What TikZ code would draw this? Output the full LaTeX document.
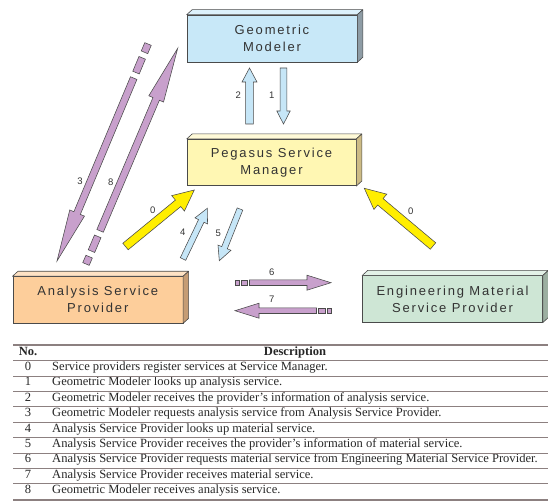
\documentclass[tikz,border=0pt]{standalone}
\usepackage{fontspec}
\setmainfont{Liberation Serif}
\newfontfamily\boxfont[LetterSpace=14]{Liberation Sans}
\newfontfamily\numfont{Liberation Sans}
\usetikzlibrary{calc}

\definecolor{gmfront}{HTML}{C8E8F8}
\definecolor{gmtop}{HTML}{DDF1FB}
\definecolor{gmside}{HTML}{8E9CA5}
\definecolor{psfront}{HTML}{FFF7B3}
\definecolor{pstop}{HTML}{FFFAD8}
\definecolor{psside}{HTML}{CDBB85}
\definecolor{asfront}{HTML}{FDCE9B}
\definecolor{astop}{HTML}{FEE2C4}
\definecolor{asside}{HTML}{C59C74}
\definecolor{emfront}{HTML}{CEE6D5}
\definecolor{emtop}{HTML}{E3F1E7}
\definecolor{emside}{HTML}{9CAFA1}
\definecolor{edge}{HTML}{4A4A4A}
\definecolor{lilac}{HTML}{C8A0CC}
\definecolor{sky}{HTML}{C6E6F7}
\definecolor{sun}{HTML}{FFEE00}
\definecolor{rulecol}{HTML}{8C8080}
\definecolor{textgray}{HTML}{333333}

% block arrow: [style]{tail}{tip}{shaft half width}{head half width}{head length}
\newcommand\blockarrow[6][]{%
  \coordinate (ba-h) at ($(#3)!#6!(#2)$);
  \draw[arrowline,#1] ($(#2)!#4!90:(#3)$) -- ($(ba-h)!#4!-90:(#2)$)
    -- ($(ba-h)!#5!-90:(#2)$) -- (#3) -- ($(ba-h)!#5!90:(#2)$)
    -- ($(ba-h)!#4!90:(#2)$) -- ($(#2)!#4!-90:(#3)$) -- cycle;
}
% one dash of a broken arrow shaft: [style]{from}{to}{half width}
\newcommand\shaftpiece[4][]{%
  \draw[arrowline,#1] ($(#2)!#4!90:(#3)$) -- ($(#3)!#4!-90:(#2)$)
    -- ($(#3)!#4!90:(#2)$) -- ($(#2)!#4!-90:(#3)$) -- cycle;
}
% top and side faces of a slab-shaped box
\newcommand\slab[3]{%
  \draw[edge,line width=0.6pt,fill=#2,line join=round] (#1.north west) -- ++(5.5,-5)
    -- ($(#1.north east)+(5.5,-5)$) -- (#1.north east) -- cycle;
  \draw[edge,line width=0.6pt,fill=#3,line join=round] (#1.north east) -- ++(5.5,-5)
    -- ($(#1.south east)+(5.5,-5)$) -- (#1.south east) -- cycle;
}

\begin{document}
\begin{tikzpicture}[x=1pt,y=-1pt,
  arrowline/.style={draw=edge,line width=0.55pt,line join=miter},
  slabbox/.style={draw=edge,line width=0.6pt,inner sep=0pt,align=center,
    text=textgray,font=\boxfont\fontsize{13}{17}\selectfont},
  lab/.style={text=textgray,font=\numfont\fontsize{9.5}{10}\selectfont,inner sep=0pt},
  cell/.style={inner sep=0pt,font=\fontsize{12.55}{13}\selectfont,text=black!85},
  hrule/.style={draw=rulecol,line width=0.6pt},
  thickrule/.style={draw=rulecol,line width=1.8pt}]
\useasboundingbox (0,0) rectangle (548,502);

% ---- boxes ----
\node[slabbox,fill=gmfront,minimum width=170pt,minimum height=47pt] (gm) at (272,38.5) {Geometric\\Modeler};
\slab{gm}{gmtop}{gmside}
\node[slabbox,fill=psfront,minimum width=169pt,minimum height=46.5pt] (psm) at (271.5,162.5) {Pegasus Service\\Manager};
\slab{psm}{pstop}{psside}
\node[slabbox,fill=asfront,minimum width=170pt,minimum height=46.5pt] (asp) at (97.8,299.8) {Analysis Service\\Provider};
\slab{asp}{astop}{asside}
\node[slabbox,fill=emfront,minimum width=180pt,minimum height=46.5pt] (emp) at (452.5,299) {Engineering Material\\Service Provider};
\slab{emp}{emtop}{emside}

% ---- arrow end points ----
\coordinate (a1t) at (283.5,68);   \coordinate (a1h) at (283.5,124);
\coordinate (a2t) at (249.5,124);  \coordinate (a2h) at (249.5,68);
\coordinate (a4t) at (183,259);    \coordinate (a4h) at (207.3,208.3);
\coordinate (a5t) at (240,209);    \coordinate (a5h) at (219.3,260.7);
\coordinate (a0lt) at (125.5,246.5); \coordinate (a0lh) at (194.3,190);
\coordinate (a0rt) at (433,246);   \coordinate (a0rh) at (364.3,188.3);
\coordinate (a6s) at (235,282.7);  \coordinate (a6h) at (331,282.7);
\coordinate (a7s) at (331,310.7);  \coordinate (a7h) at (235,310.7);
\coordinate (a3s) at (148,44);     \coordinate (a3h) at (57,261);
\coordinate (a8s) at (86,264);     \coordinate (a8h) at (177.7,48.3);

% ---- registration / lookup arrows ----
\blockarrow[fill=sky]{a1t}{a1h}{3.3pt}{6.7pt}{13pt}
\blockarrow[fill=sky]{a2t}{a2h}{3.8pt}{7.5pt}{14pt}
\blockarrow[fill=sky]{a4t}{a4h}{3pt}{7pt}{14pt}
\blockarrow[fill=sky]{a5t}{a5h}{3pt}{7pt}{14pt}
\blockarrow[fill=sun]{a0lt}{a0lh}{4.2pt}{10pt}{21pt}
\blockarrow[fill=sun]{a0rt}{a0rh}{4.2pt}{10pt}{21pt}

% ---- service request arrows with broken tails ----
\coordinate (a6p1) at ($(a6s)!4pt!(a6h)$);
\coordinate (a6p2) at ($(a6s)!6pt!(a6h)$);
\coordinate (a6p3) at ($(a6s)!12.5pt!(a6h)$);
\coordinate (a6p4) at ($(a6s)!14.5pt!(a6h)$);
\shaftpiece[fill=lilac]{a6s}{a6p1}{2.8pt}
\shaftpiece[fill=lilac]{a6p2}{a6p3}{2.8pt}
\blockarrow[fill=lilac]{a6p4}{a6h}{2.8pt}{7.5pt}{24pt}

\coordinate (a7p1) at ($(a7s)!4pt!(a7h)$);
\coordinate (a7p2) at ($(a7s)!6pt!(a7h)$);
\coordinate (a7p3) at ($(a7s)!12.5pt!(a7h)$);
\coordinate (a7p4) at ($(a7s)!14.5pt!(a7h)$);
\shaftpiece[fill=lilac]{a7s}{a7p1}{2.8pt}
\shaftpiece[fill=lilac]{a7p2}{a7p3}{2.8pt}
\blockarrow[fill=lilac]{a7p4}{a7h}{2.8pt}{7.5pt}{24pt}

\coordinate (a3p1) at ($(a3s)!9pt!(a3h)$);
\coordinate (a3p2) at ($(a3s)!15pt!(a3h)$);
\coordinate (a3p3) at ($(a3s)!31pt!(a3h)$);
\coordinate (a3p4) at ($(a3s)!37pt!(a3h)$);
\shaftpiece[fill=lilac]{a3s}{a3p1}{3.5pt}
\shaftpiece[fill=lilac]{a3p2}{a3p3}{3.5pt}
\blockarrow[fill=lilac]{a3p4}{a3h}{3.5pt}{8pt}{52pt}

\coordinate (a8p1) at ($(a8s)!8pt!(a8h)$);
\coordinate (a8p2) at ($(a8s)!14pt!(a8h)$);
\coordinate (a8p3) at ($(a8s)!30pt!(a8h)$);
\coordinate (a8p4) at ($(a8s)!36pt!(a8h)$);
\shaftpiece[fill=lilac]{a8s}{a8p1}{3.5pt}
\shaftpiece[fill=lilac]{a8p2}{a8p3}{3.5pt}
\blockarrow[fill=lilac]{a8p4}{a8h}{3.5pt}{8pt}{55pt}

% ---- step numbers ----
\node[lab] (l1) at (271.7,95) {1};
\node[lab] (l2) at (238.3,95) {2};
\node[lab] (l3) at (80,181) {3};
\node[lab] (l8) at (110.7,182.7) {8};
\node[lab] (l0a) at (152.7,210) {0};
\node[lab] (l0b) at (410.7,211.7) {0};
\node[lab] (l4) at (182.7,232.7) {4};
\node[lab] (l5) at (218.3,233.3) {5};
\node[lab] (l6) at (271.7,272.7) {6};
\node[lab] (l7) at (271.7,299.3) {7};

% ---- step table ----
\draw[thickrule] (13,345) -- (548,345);
\node[cell,anchor=mid] (hno) at (28,353) {\textbf{No.}};
\node[cell,anchor=mid] (hdesc) at (295,353) {\textbf{Description}};
\draw[hrule] (13,360.5) -- (548,360.5);
\foreach \k/\t in {
  0/{Service providers register services at Service Manager.},
  1/{Geometric Modeler looks up analysis service.},
  2/{Geometric Modeler receives the provider’s information of analysis service.},
  3/{Geometric Modeler requests analysis service from Analysis Service Provider.},
  4/{Analysis Service Provider looks up material service.},
  5/{Analysis Service Provider receives the provider’s information of material service.},
  6/{Analysis Service Provider requests material service from Engineering Material Service Provider.},
  7/{Analysis Service Provider receives material service.},
  8/{Geometric Modeler receives analysis service.}}{
  \node[cell,anchor=mid] (no\k) at (28,368.2+15.4*\k) {\k};
  \node[cell,anchor=mid west] (desc\k) at (52,368.2+15.4*\k) {\t};
}
\foreach \k in {1,...,8}{
  \draw[hrule] (13,360.5+15.4*\k) -- (548,360.5+15.4*\k);
}
\draw[thickrule] (13,499.6) -- (548,499.6);
\end{tikzpicture}
\end{document}
